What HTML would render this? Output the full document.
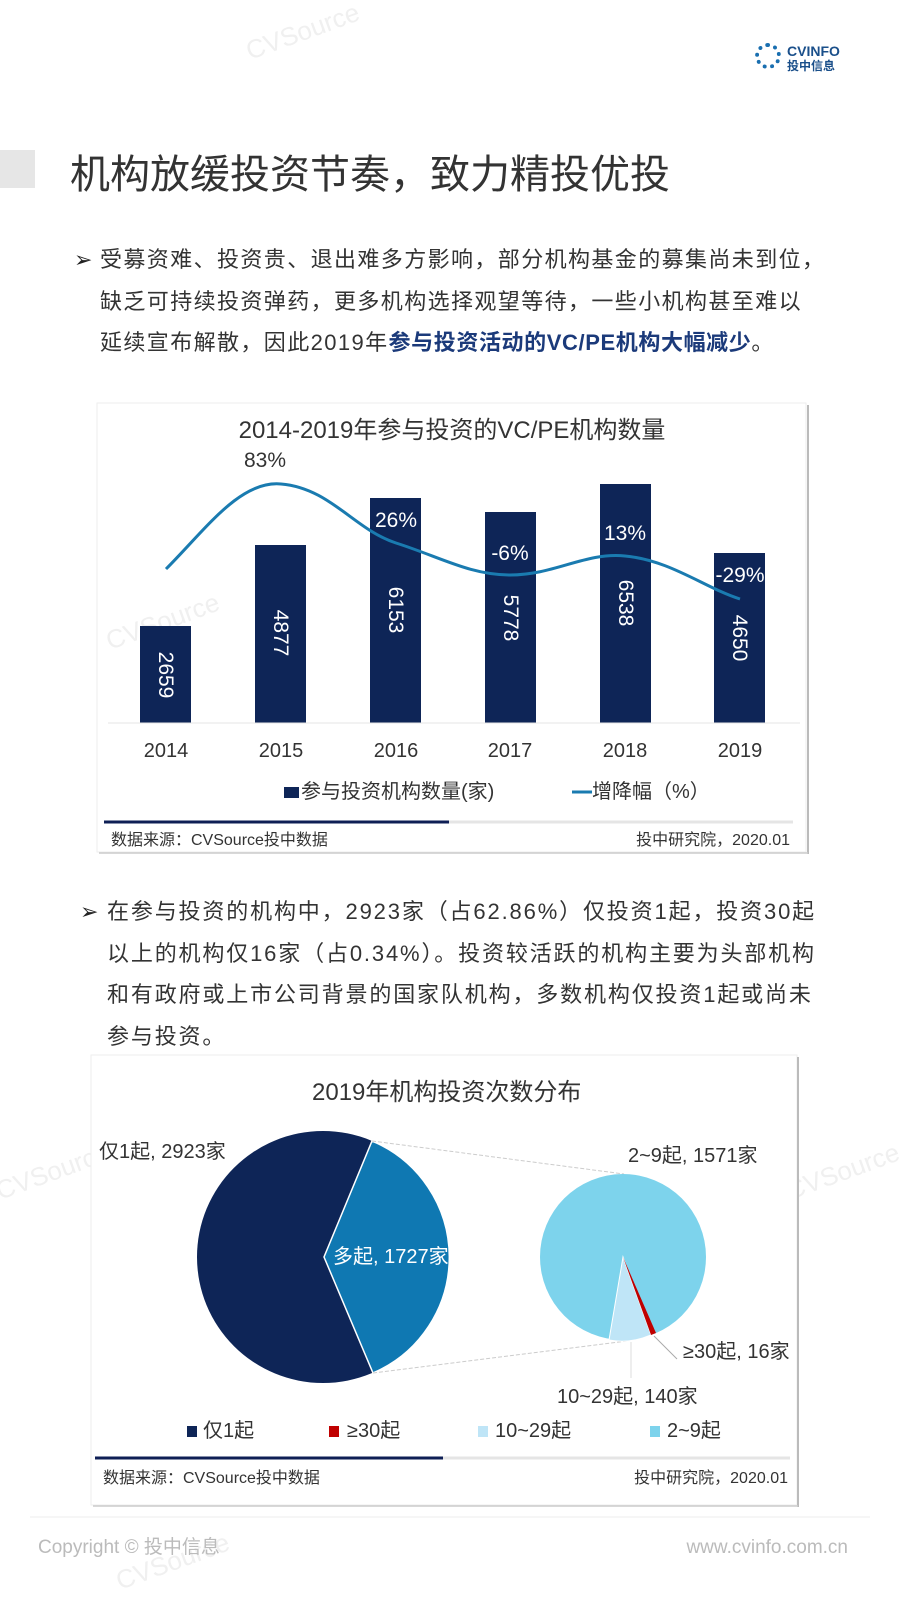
<!DOCTYPE html>
<html><head><meta charset="utf-8"><style>
body{margin:0;width:900px;height:1600px;background:#fff;font-family:"Liberation Sans","Noto Sans CJK SC",sans-serif;position:relative;overflow:hidden}
.a{position:absolute;white-space:nowrap}
</style></head><body>
<div class="a" style="left:0;top:150px;width:35px;height:38px;background:#e6e6e6"></div>
<div class="a" style="left:70px;top:152px;font-size:40px;line-height:46px;color:#333">机构放缓投资节奏，致力精投优投</div>
<div class="a" style="left:755px;top:43px;width:26px;height:26px;border-radius:50%;border:4px dotted #1a6fb0;box-sizing:border-box"></div>
<div class="a" style="left:787px;top:44px;font-size:14px;color:#1a4f8a;line-height:14px;font-weight:bold">CVINFO<br><span style="font-size:12px">投中信息</span></div>

<div class="a" style="left:74px;top:239px;font-size:22px;color:#222;line-height:41.5px">➢</div>
<div class="a" style="left:100px;top:239px;font-size:22px;color:#333;line-height:41.5px;letter-spacing:1.4px">受募资难、投资贵、退出难多方影响，部分机构基金的募集尚未到位，<br>缺乏可持续投资弹药，更多机构选择观望等待，一些小机构甚至难以<br>延续宣布解散，因此2019年<b style="color:#1b3a7a;letter-spacing:0.6px">参与投资活动的VC/PE机构大幅减少</b>。</div>

<div class="a" style="left:80px;top:891px;font-size:22px;color:#222;line-height:41.7px">➢</div>
<div class="a" style="left:107px;top:891px;font-size:22px;color:#333;line-height:41.7px;letter-spacing:1.85px">在参与投资的机构中，2923家（占62.86%）仅投资1起，投资30起<br>以上的机构仅16家（占0.34%）。投资较活跃的机构主要为头部机构<br>和有政府或上市公司背景的国家队机构，多数机构仅投资1起或尚未<br>参与投资。</div>

<svg class="a" style="left:0;top:0" width="900" height="1600" font-family="Liberation Sans,Noto Sans CJK SC,sans-serif">
<rect x="97" y="403" width="709" height="449" fill="#fff" stroke="#eee"/>
<line x1="808" y1="405" x2="808" y2="854" stroke="#bbb" stroke-width="2"/>
<line x1="99" y1="853" x2="808" y2="853" stroke="#ccc" stroke-width="1.5"/>
<g font-size="26" fill="#f0f0f0" font-family="Liberation Sans,sans-serif">
<text transform="translate(250,60) rotate(-20)">CVSource</text>
<text transform="translate(110,650) rotate(-20)">CVSource</text>
<text transform="translate(0,1200) rotate(-20)">CVSource</text>
<text transform="translate(790,1200) rotate(-20)">CVSource</text>
<text transform="translate(120,1590) rotate(-20)">CVSource</text>
</g>
<text x="452" y="438" font-size="24" fill="#333" text-anchor="middle">2014-2019年参与投资的VC/PE机构数量</text>
<g fill="#0e2557">
<rect x="140" y="626" width="51" height="97"/>
<rect x="255" y="545" width="51" height="178"/>
<rect x="370" y="498" width="51" height="225"/>
<rect x="485" y="512" width="51" height="211"/>
<rect x="600" y="484" width="51" height="239"/>
<rect x="714" y="553" width="51" height="170"/>
</g>
<line x1="108" y1="723" x2="800" y2="723" stroke="#e5e5e5"/>
<g fill="#fff" font-size="21">
<text transform="translate(159,675) rotate(90)" text-anchor="middle">2659</text>
<text transform="translate(274,633) rotate(90)" text-anchor="middle">4877</text>
<text transform="translate(389,610) rotate(90)" text-anchor="middle">6153</text>
<text transform="translate(504,618) rotate(90)" text-anchor="middle">5778</text>
<text transform="translate(619,603) rotate(90)" text-anchor="middle">6538</text>
<text transform="translate(733,638) rotate(90)" text-anchor="middle">4650</text>
</g>
<path d="M166,569 C205,530 240,480 281,484 C330,488 355,530 396,543 C440,557 470,575 510,575 C555,575 585,552 625,556 C670,560 705,588 740,599" fill="none" stroke="#1a7bb0" stroke-width="3"/>
<g font-size="21" text-anchor="middle">
<text x="265" y="467" fill="#333">83%</text>
<text x="396" y="527" fill="#fff">26%</text>
<text x="510" y="560" fill="#fff">-6%</text>
<text x="625" y="540" fill="#fff">13%</text>
<text x="740" y="582" fill="#fff">-29%</text>
</g>
<g font-size="20" fill="#333" text-anchor="middle">
<text x="166" y="757">2014</text><text x="281" y="757">2015</text><text x="396" y="757">2016</text>
<text x="510" y="757">2017</text><text x="625" y="757">2018</text><text x="740" y="757">2019</text>
</g>
<rect x="284" y="787" width="15" height="11" fill="#0e2557"/>
<text x="301" y="798" font-size="20" fill="#333">参与投资机构数量(家)</text>
<line x1="572" y1="792" x2="592" y2="792" stroke="#1a7bb0" stroke-width="3"/>
<text x="592" y="798" font-size="20" fill="#333">增降幅（%）</text>
<line x1="104" y1="822" x2="449" y2="822" stroke="#0e1f55" stroke-width="3"/>
<line x1="449" y1="822" x2="793" y2="822" stroke="#e5e5e5" stroke-width="3"/>
<text x="111" y="845" font-size="16" fill="#333">数据来源：CVSource投中数据</text>
<text x="790" y="845" font-size="16" fill="#333" text-anchor="end">投中研究院，2020.01</text>

<rect x="91" y="1055" width="706" height="450" fill="#fff" stroke="#eee"/>
<line x1="798" y1="1057" x2="798" y2="1507" stroke="#bbb" stroke-width="2"/>
<line x1="93" y1="1506" x2="798" y2="1506" stroke="#ccc" stroke-width="1.5"/>
<text x="312" y="1100" font-size="24" fill="#333">2019年机构投资次数分布</text>
<circle cx="323" cy="1257" r="126" fill="#0e2557"/>
<path d="M372,1141 L324,1257 L373,1373 A126,126 0 0 0 372,1141 Z" fill="#0f78b2" stroke="#fff" stroke-width="1.5"/>
<line x1="372" y1="1141" x2="624" y2="1174" stroke="#ccc" stroke-dasharray="4,2"/>
<line x1="373" y1="1373" x2="627" y2="1341" stroke="#ccc" stroke-dasharray="4,2"/>
<circle cx="623" cy="1257" r="83" fill="#7dd3ec"/>
<path d="M623,1257 L609,1340 Q630,1344 651,1335 Z" fill="#bfe5f7" stroke="#fff" stroke-width="1"/>
<path d="M623,1257 L651,1335 L656,1333 Z" fill="#c00000"/>
<text x="99" y="1158" font-size="20" fill="#333">仅1起, 2923家</text>
<text x="333" y="1263" font-size="20" fill="#fff">多起, 1727家</text>
<text x="628" y="1162" font-size="20" fill="#333">2~9起, 1571家</text>
<line x1="654" y1="1336" x2="677" y2="1359" stroke="#aaa"/>
<text x="683" y="1358" font-size="20" fill="#333">≥30起, 16家</text>
<line x1="631" y1="1342" x2="631" y2="1378" stroke="#ddd"/>
<text x="557" y="1403" font-size="20" fill="#333">10~29起, 140家</text>
<rect x="187" y="1426" width="10" height="11" fill="#0e2557"/><text x="203" y="1437" font-size="20" fill="#333">仅1起</text>
<rect x="329" y="1426" width="10" height="11" fill="#c00000"/><text x="347" y="1437" font-size="20" fill="#333">≥30起</text>
<rect x="478" y="1426" width="10" height="11" fill="#bfe5f7"/><text x="495" y="1437" font-size="20" fill="#333">10~29起</text>
<rect x="650" y="1426" width="10" height="11" fill="#7dd3ec"/><text x="667" y="1437" font-size="20" fill="#333">2~9起</text>
<line x1="95" y1="1458" x2="443" y2="1458" stroke="#0e1f55" stroke-width="3"/>
<line x1="443" y1="1458" x2="790" y2="1458" stroke="#e5e5e5" stroke-width="3"/>
<text x="103" y="1483" font-size="16" fill="#333">数据来源：CVSource投中数据</text>
<text x="788" y="1483" font-size="16" fill="#333" text-anchor="end">投中研究院，2020.01</text>

<line x1="30" y1="1517" x2="870" y2="1517" stroke="#eee"/>
<text x="38" y="1553" font-size="19" fill="#bbb">Copyright © 投中信息</text>
<text x="848" y="1553" font-size="19" fill="#bbb" text-anchor="end">www.cvinfo.com.cn</text>
</svg>
</body></html>
